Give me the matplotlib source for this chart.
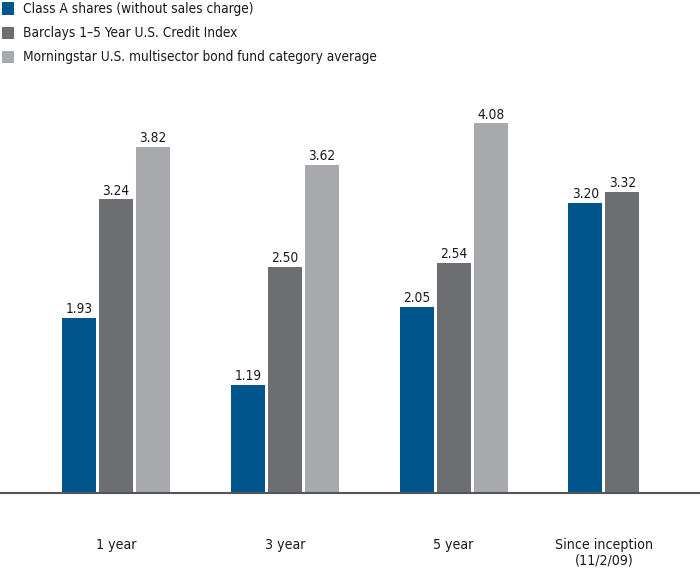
import matplotlib
matplotlib.use("Agg")
import matplotlib.pyplot as plt
from matplotlib.patches import Rectangle

plt.rcParams['font.family'] = ['DejaVu Sans']
plt.rcParams['font.stretch'] = 'condensed'

categories = ["1 year", "3 year", "5 year", "Since inception\n(11/2/09)"]
series_names = ["Class A shares (without sales charge)",
                "Barclays 1\u20135 Year U.S. Credit Index",
                "Morningstar U.S. multisector bond fund category average"]
class_a = [1.93, 1.19, 2.05, 3.20]
barclays = [3.24, 2.50, 2.54, 3.32]
morningstar = [3.82, 3.62, 4.08, None]
series = [class_a, barclays, morningstar]
colors = ["#00558c", "#6d6e71", "#a7a9ac"]

W, H = 700, 573
fig = plt.figure(figsize=(W/100, H/100), dpi=100)
base_px = 493
top_px = 100
ax = fig.add_axes([0, (H - base_px)/H, 1, (base_px - top_px)/H])

px_per_unit = 90.6
ax.set_ylim(0, (base_px - top_px)/px_per_unit)
step = 168.8
c0 = 116
ax.set_xlim(-c0/step, (W - c0)/step)
bw = 34/step
off = 37/step

for si, vals in enumerate(series):
    for gi, v in enumerate(vals):
        if v is None:
            continue
        x = gi + (si - 1)*off
        ax.bar(x, v, width=bw, color=colors[si], zorder=2)
        ax.text(x, v + 0.02, f"{v:.2f}", ha='center', va='bottom', fontsize=9.8, color='#1a1a1a')

for gi, cat in enumerate(categories):
    n = sum(1 for s in series if s[gi] is not None)
    cx = gi + ((n - 1)/2 - 1)*off
    ax.text(cx, -0.5, cat, ha='center', va='top', fontsize=10.2, color='#1a1a1a', linespacing=1.15)

for s in ['top', 'left', 'right']:
    ax.spines[s].set_visible(False)
ax.spines['bottom'].set_color('#555555')
ax.spines['bottom'].set_linewidth(1.5)
ax.set_xticks([])
ax.set_yticks([])
ax.patch.set_alpha(0)

# legend
rows_y = [8.5, 32.7, 57]
for name, col, yy in zip(series_names, colors, rows_y):
    fig.patches.append(Rectangle((2/W, 1 - (yy + 6)/H), 12/W, 12/H, transform=fig.transFigure,
                                 facecolor=col, edgecolor='none'))
    fig.text(23/W, 1 - yy/H, name, ha='left', va='center', fontsize=9.8, color='#1a1a1a')

fig.savefig("out.png", dpi=100)
